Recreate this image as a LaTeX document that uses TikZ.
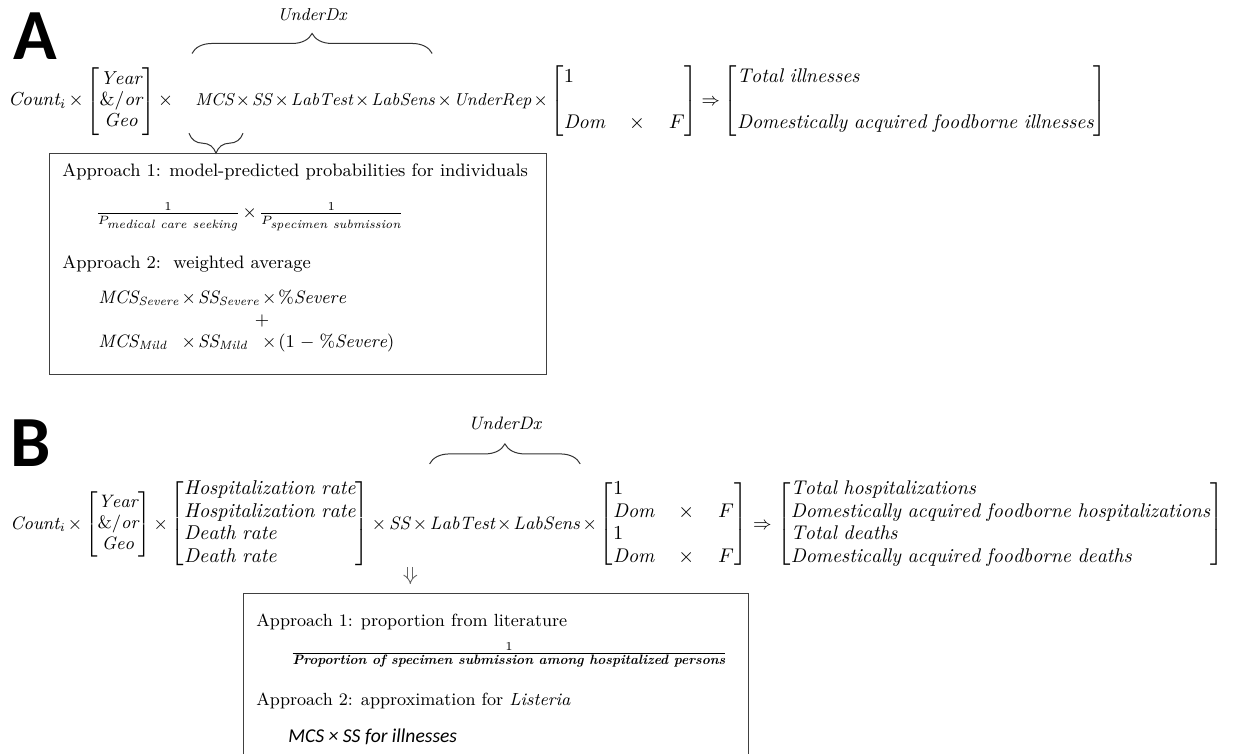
\RequirePackage{fix-cm}
\documentclass[tikz,border=0pt]{standalone}
\usepackage{amsmath,amssymb,mathtools}
\usepackage{fontspec}
\newfontfamily\lblfont{Carlito}
\newfontfamily\calfont{Carlito}
\usepackage{tikz}
\usetikzlibrary{arrows.meta, positioning, decorations.pathreplacing}
\tikzset{>/.tip={Implies}}
\tikzset{fml/.style={inner sep=0pt, anchor=base west, font=\fontsize{8.6}{10.5}\selectfont}}
\tikzset{fmlB/.style={fml, font=\fontsize{9}{10.5}\selectfont}}
\tikzset{fmlL/.style={fml, font=\fontsize{9.4}{10.5}\selectfont}}
\tikzset{mtx/.style={fml, font=\fontsize{9.9}{11.3}\selectfont}}
\tikzset{txt/.style={inner sep=0pt, anchor=west, font=\fontsize{9}{11}\selectfont}}
\tikzset{brc/.style={decorate, decoration={brace, amplitude=10pt}, line width=0.5pt, draw=black!80}}
\tikzset{brcm/.style={brc, decoration={mirror}}}
\tikzset{frm/.style={draw=black!75, line width=0.6pt, inner sep=0pt}}
\tikzset{dbl/.style={double, double distance=2pt, line width=0.45pt, draw=black!60, ->}}
\tikzset{lbl/.style={inner sep=0pt, font=\lblfont\bfseries\fontsize{36}{36}\selectfont}}
\medmuskip=2mu plus 2mu minus 2mu

\begin{document}
\begin{tikzpicture}[x=0.5pt, y=-0.5pt]
\useasboundingbox (0,0) rectangle (1236,754);

% A: illnesses
\draw node(lblA) [lbl] at (35,36) {A};
\draw node(cntA) [fmlL] at (8,106) {$\mathit{Count}_i\times{}$};
\draw node(geoA) [fmlL] at (cntA.base east) {$\begin{bmatrix}\mathit{Year}\\ \&/\mathit{or}\\ \mathit{Geo}\end{bmatrix}$};
\draw node(opA) [fmlL] at (geoA.base east) {${}\times{}$};
\draw node(mcsA) [fml] at (195,106) {$\mathit{MCS}\times\mathit{SS}$};
\draw node(labA) [fml] at (mcsA.base east) {${}\times\mathit{LabTest}\times\mathit{LabSens}$};
\draw node(repA) [fml] at (labA.base east) {${}\times\mathit{UnderRep}\times{}$};
\draw node(domA) [mtx] at (repA.base east) {$\setlength\arraycolsep{6pt}\begin{bmatrix*}[l]1&&\\ \\ \mathit{Dom}&\times&F\end{bmatrix*}$};
\draw node(impA) [fml] at (domA.base east) {$\,\Rightarrow\,$};
\draw node(outA) [mtx] at (impA.base east) {$\begin{bmatrix*}[l]\mathit{Total\ illnesses}\\ \\ \mathit{Domestically\ acquired\ foodborne\ illnesses}\end{bmatrix*}$};
\draw[brc] ([yshift=20pt,xshift=-1.5pt]mcsA.north west) -- ([yshift=20pt,xshift=-1.5pt]mcsA.north west -| labA.north east)
  node(udxA) [midway, fml, anchor=base, yshift=16.5pt] {$\mathit{UnderDx}$};
\draw[brcm] ([yshift=-12.5pt,xshift=-3pt]mcsA.south west) -- ([yshift=-12.5pt,xshift=24pt]mcsA.south west);

\draw node(boxA) [frm, minimum width=248.5pt, minimum height=110.5pt, anchor=north west] at (49,153) {};
\draw node(ap1A) [txt] at (62,172) {Approach 1: model-predicted probabilities for individuals};
\draw node(fracA) [fml, anchor=west, font=\fontsize{8.6}{11}\selectfont] at (95,217)
  {$\frac{1}{P_{\scriptstyle\mathit{medical\ care\ seeking}}}\times\frac{1}{P_{\scriptstyle\mathit{specimen\ submission}}}$};
\draw node(ap2A) [txt] at (62,264) {Approach 2:\ \ weighted average};
\draw node(wavgA) [fml, font=\fontsize{9}{10.5}\selectfont] at (98,326)
  {$\begin{array}{@{}l@{}l@{}l@{}}
   \mathit{MCS}_{\mathit{Severe}} & {}\times\mathit{SS}_{\mathit{Severe}} & {}\times\%\mathit{Severe}\\[0.5pt]
   & & \hspace{1pt}\mathclap{+}\\[0.5pt]
   \mathit{MCS}_{\mathit{Mild}}\; & {}\times\mathit{SS}_{\mathit{Mild}}\; & {}\times(1\,-\,\%\mathit{Severe})
  \end{array}$};

% B: hospitalizations and deaths
\draw node(lblB) [lbl] at (31,443) {B};
\draw node(cntB) [fmlB] at (10,529) {$\mathit{Count}_i\times{}$};
\draw node(geoB) [fmlB] at (cntB.base east) {$\begin{bmatrix}\mathit{Year}\\ \&/\mathit{or}\\ \mathit{Geo}\end{bmatrix}$};
\draw node(opB) [fmlB] at (geoB.base east) {${}\times{}$};
\draw node(rateB) [mtx, font=\fontsize{10}{11.3}\selectfont] at (opB.base east) {$\begin{bmatrix*}[l]\mathit{Hospitalization\ rate}\\ \mathit{Hospitalization\ rate}\\ \mathit{Death\ rate}\\ \mathit{Death\ rate}\end{bmatrix*}$};
\draw node(opB1) [fmlB] at (rateB.base east) {${}\times{}$};
\draw node(ssB) [fmlB] at (opB1.base east) {$\mathit{SS}$};
\draw node(opB2) [fmlB] at (ssB.base east) {${}\times{}$};
\draw node(labB) [fmlB] at (opB2.base east) {$\mathit{LabTest}\times\mathit{LabSens}$};
\draw node(repB) [fmlB] at (labB.base east) {${}\times{}$};
\draw node(domB) [mtx] at (repB.base east) {$\setlength\arraycolsep{6pt}\begin{bmatrix*}[l]1&&\\ \mathit{Dom}&\times&F\\ 1&&\\ \mathit{Dom}&\times&F\end{bmatrix*}$};
\draw node(impB) [fmlB] at (domB.base east) {$\;\Rightarrow\;$};
\draw node(outB) [mtx, font=\fontsize{9.9}{11.3}\selectfont] at (impB.base east) {$\begin{bmatrix*}[l]\mathit{Total\ hospitalizations}\\ \mathit{Domestically\ acquired\ foodborne\ hospitalizations}\\ \mathit{Total\ deaths}\\ \mathit{Domestically\ acquired\ foodborne\ deaths}\end{bmatrix*}$};
\draw[brc] ([yshift=26pt]labB.north west) -- ([yshift=26pt]labB.north east)
  node(udxB) [midway, fmlB, anchor=base, yshift=17pt] {$\mathit{UnderDx}$};

\begin{scope}
\clip (0,0) rectangle (1236,754);
\draw node(boxB) [frm, minimum width=252.5pt, minimum height=120pt, anchor=north west] at (243,593) {};
\end{scope}
\draw[dbl, shorten <=18.5pt, shorten >=4.5pt] (ssB.south east) -- (ssB.south east |- boxB.north);
\draw node(ap1B) [txt, font=\fontsize{8.8}{10.5}\selectfont] at (256,622) {Approach 1: proportion from literature};
\draw node(fracB) [fml, anchor=center, font=\fontsize{9}{11}\selectfont] at (509,655)
  {$\frac{1}{\text{\fontsize{6.8}{8}\selectfont\bfseries\itshape Proportion of specimen submission among hospitalized persons}}$};
\draw node(ap2B) [txt, font=\fontsize{8.8}{10.5}\selectfont] at (256,701) {Approach 2: approximation for \textit{Listeria}};
\draw node(illB) [txt, font=\calfont\itshape\fontsize{9.8}{11}\selectfont] at (288,737) {MCS × SS for illnesses};
\end{tikzpicture}
\end{document}
